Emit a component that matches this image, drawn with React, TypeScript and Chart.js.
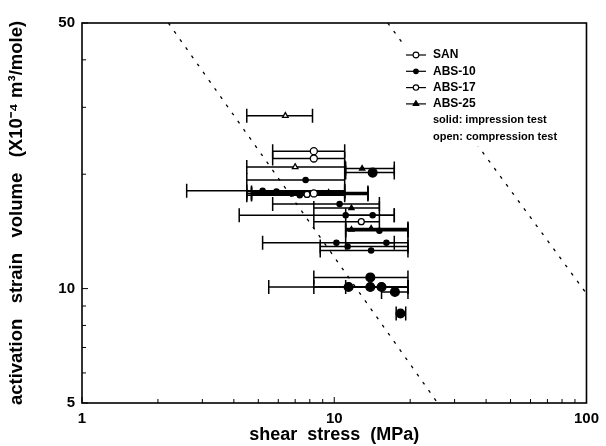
import React, { useEffect, useRef } from "react";
import { Chart, registerables } from "chart.js";

Chart.register(...registerables);

const FONT = '"Liberation Sans", Arial, Helvetica, sans-serif';

const X_MAJOR = [1, 10, 100];
const Y_MAJOR = [5, 10, 50];
const X_MINOR = [2, 3, 4, 5, 6, 7, 8, 9, 20, 30, 40, 50, 60, 70, 80, 90];
const Y_MINOR = [6, 7, 8, 9, 20, 30, 40];

// rows: [shear stress (MPa), activation volume, stress low, stress high]
const SAN_COMPRESSION = [
  [8.3, 23.0, 5.7, 11.0],
  [8.3, 22.0, 5.7, 11.0],
  [8.3, 17.8, 4.5, 11.0],
];
const SAN_IMPRESSION = [
  [14.2, 20.2, 11.1, 17.3],
  [13.9, 10.7, 8.3, 19.6],
  [11.4, 10.1, 5.5, 19.6],
  [13.9, 10.1, 8.3, 19.6],
  [15.4, 10.1, 11.1, 19.6],
  [17.4, 9.8, 15.4, 19.6],
  [18.3, 8.6, 17.6, 19.2],
];
const ABS10_IMPRESSION = [
  [5.2, 18.1, 2.6, 11.0],
  [5.9, 18.0, 4.5, 11.0],
  [6.8, 17.8, 4.7, 13.6],
  [7.3, 17.6, 4.5, 11.0],
  [7.7, 19.3, 4.5, 11.0],
  [10.5, 16.7, 5.7, 15.1],
  [11.1, 15.6, 4.2, 17.3],
  [14.2, 15.6, 11.1, 17.3],
  [15.1, 14.2, 11.1, 19.6],
  [10.2, 13.2, 5.2, 17.3],
  [11.3, 12.9, 8.8, 19.6],
  [16.1, 13.2, 11.1, 19.6],
  [14.0, 12.6, 8.8, 19.6],
];
const ABS17_COMPRESSION = [
  [7.8, 17.7, 4.7, 13.6],
  [12.8, 15.0, 8.3, 15.1],
];
const ABS25_COMPRESSION = [
  [6.4, 28.5, 4.5, 8.2],
  [7.0, 20.9, 4.5, 11.0],
];
const ABS25_IMPRESSION = [
  [12.9, 20.7, 11.1, 17.3],
  [9.5, 17.9, 4.7, 13.6],
  [14.0, 14.4, 11.1, 19.6],
  [11.7, 16.3, 8.3, 15.1],
  [11.7, 14.3, 11.1, 19.6],
];

const GUIDE_LOW = [
  [2.2, 50],
  [25.7, 5],
];
const GUIDE_HIGH = [
  [16.3, 50],
  [100, 9.7],
];

const LEGEND_NAMES = ["SAN", "ABS-10", "ABS-17", "ABS-25"];
const LEGEND_NOTES = ["solid: impression test", "open: compression test"];
const X_TITLE = "shear  stress  (MPa)";
const Y_TITLE = "activation   strain   volume   (X10\u207B\u2074 m\u00B3/mole)";

const toPts = (rows: number[][]) =>
  rows.map(([x, y, lo, hi]) => ({ x, y, lo, hi }));

const errorBarPlugin = {
  id: "errorBars",
  beforeDatasetsDraw(chart: any) {
    const { ctx } = chart;
    const xs = chart.scales.x;
    const ys = chart.scales.y;
    ctx.save();
    ctx.strokeStyle = "#000";
    ctx.lineWidth = 1.5;
    chart.data.datasets.forEach((ds: any) => {
      if (!ds.errorBars) return;
      ds.data.forEach((p: any) => {
        const y = ys.getPixelForValue(p.y);
        const x1 = xs.getPixelForValue(p.lo);
        const x2 = xs.getPixelForValue(p.hi);
        ctx.beginPath();
        ctx.moveTo(x1, y);
        ctx.lineTo(x2, y);
        ctx.moveTo(x1, y - 7);
        ctx.lineTo(x1, y + 7);
        ctx.moveTo(x2, y - 7);
        ctx.lineTo(x2, y + 7);
        ctx.stroke();
      });
    });
    ctx.restore();
  },
};

const framePlugin = {
  id: "frame",
  afterDatasetsDraw(chart: any) {
    const { ctx, chartArea: a } = chart;
    const xs = chart.scales.x;
    const ys = chart.scales.y;
    ctx.save();
    ctx.strokeStyle = "#000";
    ctx.lineWidth = 1.6;
    ctx.strokeRect(a.left, a.top, a.right - a.left, a.bottom - a.top);
    ctx.lineWidth = 1;
    ctx.beginPath();
    [...X_MAJOR, ...X_MINOR].forEach((v) => {
      const x = xs.getPixelForValue(v);
      const len = X_MAJOR.includes(v) ? 6 : 4;
      ctx.moveTo(x, a.bottom);
      ctx.lineTo(x, a.bottom - len);
    });
    [...Y_MAJOR, ...Y_MINOR].forEach((v) => {
      const y = ys.getPixelForValue(v);
      const len = Y_MAJOR.includes(v) ? 6 : 4;
      ctx.moveTo(a.left, y);
      ctx.lineTo(a.left + len, y);
    });
    ctx.stroke();
    ctx.restore();
  },
};

function drawMarker(ctx: any, style: string, r: number, x: number, y: number, fill: string) {
  ctx.beginPath();
  if (style === "triangle") {
    ctx.moveTo(x, y - r * 1.2);
    ctx.lineTo(x + r * 1.05, y + r * 0.6);
    ctx.lineTo(x - r * 1.05, y + r * 0.6);
    ctx.closePath();
  } else {
    ctx.arc(x, y, r, 0, Math.PI * 2);
  }
  ctx.fillStyle = fill;
  ctx.fill();
  ctx.strokeStyle = "#000";
  ctx.stroke();
}

const legendPlugin = {
  id: "innerLegend",
  afterDatasetsDraw(chart: any) {
    const { ctx, chartArea: a } = chart;
    const w = a.right - a.left;
    const cx = a.left + w * 0.662;
    const tx = cx + 17;
    const y0 = a.top + 32;
    const step = 16.3;
    const markerDs = chart.data.datasets.filter((d: any) => d.legendIndex !== undefined);
    ctx.save();
    // opaque legend box (no border) hides the guide line behind it
    ctx.fillStyle = "#fff";
    ctx.fillRect(cx - 13, y0 - 10, 168, step * 5 + 20);
    ctx.textBaseline = "middle";
    ctx.textAlign = "left";
    LEGEND_NAMES.forEach((name, i) => {
      const y = y0 + i * step;
      ctx.strokeStyle = "#000";
      ctx.lineWidth = 1.2;
      ctx.beginPath();
      ctx.moveTo(cx - 10, y);
      ctx.lineTo(cx + 10, y);
      ctx.stroke();
      const ds = markerDs.find((d: any) => d.legendIndex === i);
      if (ds) {
        ctx.lineWidth = 1.1;
        drawMarker(ctx, ds.pointStyle, Math.min(ds.pointRadius, 3.2) * 0.9, cx, y, ds.backgroundColor);
      }
      ctx.fillStyle = "#000";
      ctx.font = `bold 12px ${FONT}`;
      ctx.fillText(name, tx, y);
    });
    ctx.fillStyle = "#000";
    ctx.font = `bold 11px ${FONT}`;
    LEGEND_NOTES.forEach((t, i) => {
      ctx.fillText(t, tx, y0 + (4 + i) * step);
    });
    ctx.restore();
  },
};

export default function App() {
  const ref = useRef<HTMLCanvasElement | null>(null);

  useEffect(() => {
    if (!ref.current) return;
    const guide = (rows: number[][]) => ({
      type: "line" as const,
      data: rows.map(([x, y]) => ({ x, y })),
      showLine: true,
      borderColor: "#000",
      borderWidth: 1.3,
      borderDash: [3, 7],
      pointRadius: 0,
      fill: false,
    });
    const marks = (
      label: string,
      rows: number[][],
      style: string,
      radius: number,
      filled: boolean,
      legendIndex?: number
    ) => ({
      label,
      data: toPts(rows),
      errorBars: true,
      legendIndex,
      pointStyle: style,
      pointRadius: radius,
      pointHoverRadius: radius,
      backgroundColor: filled ? "#000" : "#fff",
      borderColor: "#000",
      borderWidth: 1.3,
      showLine: false,
    });

    const chart = new Chart(ref.current, {
      type: "scatter",
      data: {
        datasets: [
          guide(GUIDE_LOW),
          guide(GUIDE_HIGH),
          marks("SAN compression", SAN_COMPRESSION, "circle", 3.5, false, 0),
          marks("SAN impression", SAN_IMPRESSION, "circle", 4.4, true),
          marks("ABS-10 impression", ABS10_IMPRESSION, "circle", 2.6, true, 1),
          marks("ABS-17 compression", ABS17_COMPRESSION, "circle", 3, false, 2),
          marks("ABS-25 compression", ABS25_COMPRESSION, "triangle", 3.2, false),
          marks("ABS-25 impression", ABS25_IMPRESSION, "triangle", 3, true, 3),
        ] as any,
      },
      options: {
        animation: false,
        responsive: true,
        maintainAspectRatio: false,
        layout: { padding: { top: 23, right: 18, left: 0, bottom: 0 } },
        plugins: {
          legend: { display: false },
          tooltip: { enabled: false },
        },
        scales: {
          x: {
            type: "logarithmic",
            min: 1,
            max: 100,
            afterBuildTicks: (s: any) => {
              s.ticks = X_MAJOR.map((v) => ({ value: v }));
            },
            afterFit: (s: any) => {
              s.height = 43;
            },
            grid: { display: false, drawTicks: false },
            border: { display: false },
            ticks: {
              color: "#000",
              font: { family: FONT, size: 15, weight: "bold" },
              padding: 7,
              maxRotation: 0,
              autoSkip: false,
              callback: (v: any) => String(v),
            },
            title: {
              display: true,
              text: X_TITLE,
              color: "#000",
              font: { family: FONT, size: 18, weight: "bold" },
              padding: { top: 0, bottom: 0 },
            },
          },
          y: {
            type: "logarithmic",
            min: 5,
            max: 50,
            afterBuildTicks: (s: any) => {
              s.ticks = Y_MAJOR.map((v) => ({ value: v }));
            },
            afterFit: (s: any) => {
              s.width = 82;
            },
            grid: { display: false, drawTicks: false },
            border: { display: false },
            ticks: {
              color: "#000",
              font: { family: FONT, size: 15, weight: "bold" },
              padding: 7,
              autoSkip: false,
              callback: (v: any) => String(v),
            },
            title: {
              display: true,
              text: Y_TITLE,
              color: "#000",
              font: { family: FONT, size: 18.5, weight: "bold" },
              padding: { top: 6, bottom: 0 },
            },
          },
        },
      } as any,
      plugins: [errorBarPlugin, framePlugin, legendPlugin],
    });
    return () => chart.destroy();
  }, []);

  return (
    <div
      style={{
        position: "absolute",
        left: 0,
        top: 0,
        width: 606,
        height: 446,
        background: "#fff",
      }}
    >
      <canvas ref={ref} />
    </div>
  );
}
